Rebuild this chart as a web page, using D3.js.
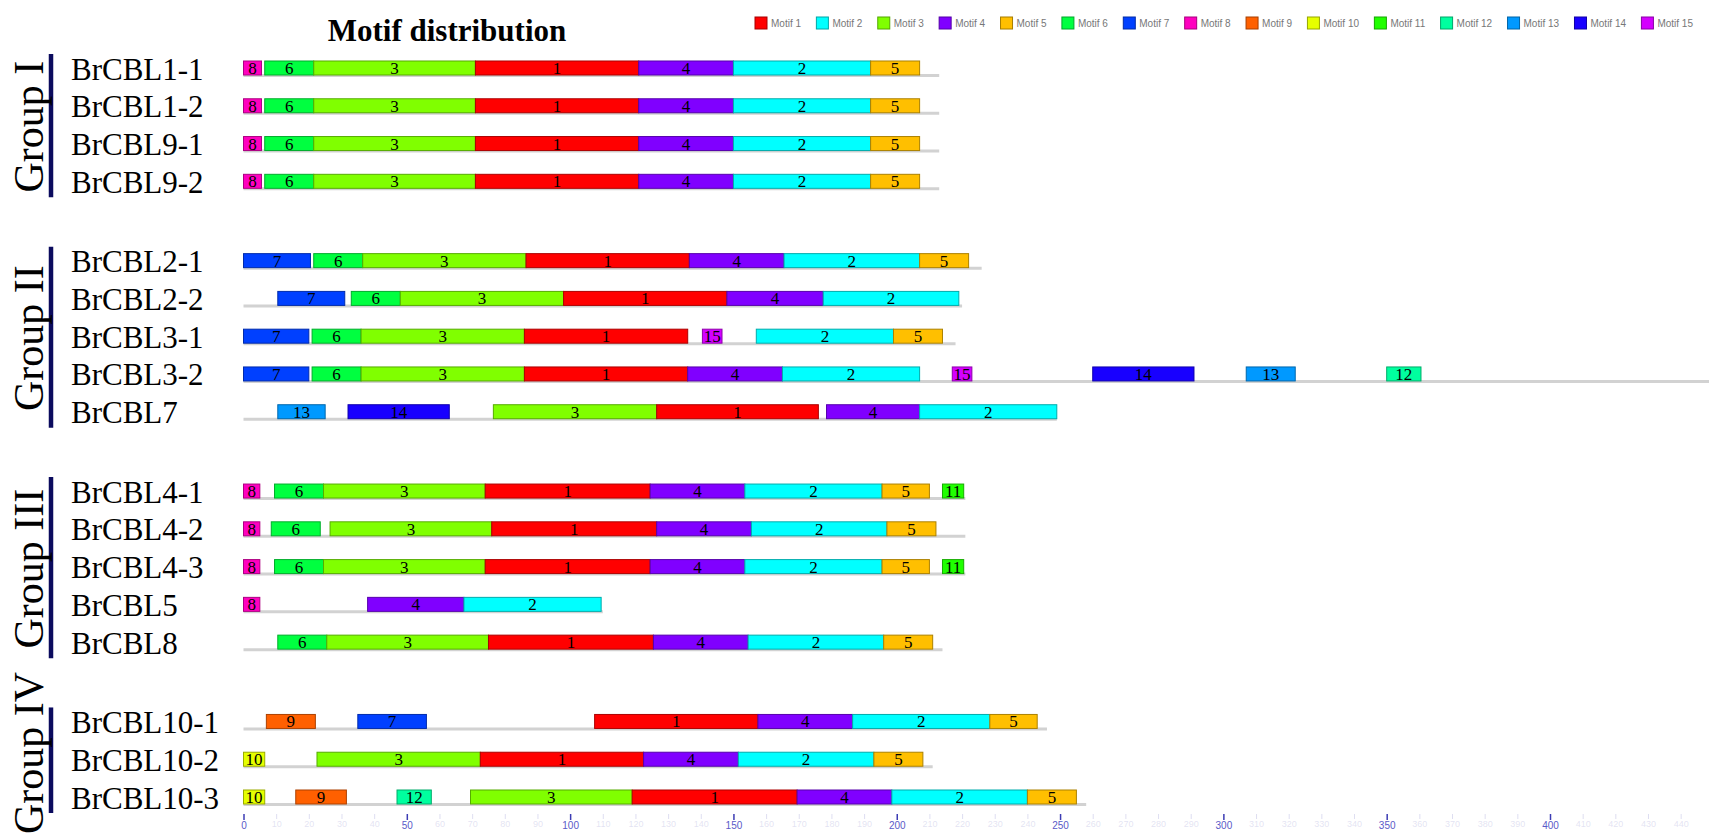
<!DOCTYPE html>
<html>
<head>
<meta charset="utf-8">
<script src="https://cdn.jsdelivr.net/npm/d3@7"></script>
<style>
  body { margin: 0; background: #fff; }
  svg { display: block; }
</style>
</head>
<body>
<svg id="chart" width="1709" height="836"></svg>
<script>
// --- data (positions in amino acids) ---
const groupNames = ["Group I", "Group II", "Group III", "Group IV"];
const groupSizes = [4, 5, 5, 3];

const geneNames = [
  "BrCBL1-1", "BrCBL1-2", "BrCBL9-1", "BrCBL9-2",
  "BrCBL2-1", "BrCBL2-2", "BrCBL3-1", "BrCBL3-2", "BrCBL7",
  "BrCBL4-1", "BrCBL4-2", "BrCBL4-3", "BrCBL5", "BrCBL8",
  "BrCBL10-1", "BrCBL10-2", "BrCBL10-3"
];

const geneLengths = [213, 213, 213, 213, 226, 220, 218, 460, 249, 221, 221, 221, 110, 214, 246, 211, 258];

// [motif, start, end]
const motifSites = [
  [[8, 0, 5.5], [6, 6.5, 21.5], [3, 21.5, 71], [1, 71, 121], [4, 121, 150], [2, 150, 192], [5, 192, 207]],
  [[8, 0, 5.5], [6, 6.5, 21.5], [3, 21.5, 71], [1, 71, 121], [4, 121, 150], [2, 150, 192], [5, 192, 207]],
  [[8, 0, 5.5], [6, 6.5, 21.5], [3, 21.5, 71], [1, 71, 121], [4, 121, 150], [2, 150, 192], [5, 192, 207]],
  [[8, 0, 5.5], [6, 6.5, 21.5], [3, 21.5, 71], [1, 71, 121], [4, 121, 150], [2, 150, 192], [5, 192, 207]],
  [[7, 0, 20.5], [6, 21.5, 36.5], [3, 36.5, 86.5], [1, 86.5, 136.5], [4, 136.5, 165.5], [2, 165.5, 207], [5, 207, 222]],
  [[7, 10.5, 31], [6, 33, 48], [3, 48, 98], [1, 98, 148], [4, 148, 177.5], [2, 177.5, 219]],
  [[7, 0, 20], [6, 21, 36], [3, 36, 86], [1, 86, 136], [15, 140.5, 146.5], [2, 157, 199], [5, 199, 214]],
  [[7, 0, 20], [6, 21, 36], [3, 36, 86], [1, 86, 136], [4, 136, 165], [2, 165, 207], [15, 217, 223],
   [14, 260, 291], [13, 307, 322], [12, 350, 360.5]],
  [[13, 10.5, 25], [14, 32, 63], [3, 76.5, 126.5], [1, 126.5, 176], [4, 178.5, 207], [2, 207, 249]],
  [[8, 0, 5], [6, 9.5, 24.5], [3, 24.5, 74], [1, 74, 124.5], [4, 124.5, 153.5], [2, 153.5, 195.5], [5, 195.5, 210], [11, 214, 220.5]],
  [[8, 0, 5], [6, 8.5, 23.5], [3, 26.5, 76], [1, 76, 126.5], [4, 126.5, 155.5], [2, 155.5, 197], [5, 197, 212]],
  [[8, 0, 5], [6, 9.5, 24.5], [3, 24.5, 74], [1, 74, 124.5], [4, 124.5, 153.5], [2, 153.5, 195.5], [5, 195.5, 210], [11, 214, 220.5]],
  [[8, 0, 5], [4, 38, 67.5], [2, 67.5, 109.5]],
  [[6, 10.5, 25.5], [3, 25.5, 75], [1, 75, 125.5], [4, 125.5, 154.5], [2, 154.5, 196], [5, 196, 211]],
  [[9, 7, 22], [7, 35, 56], [1, 107.5, 157.5], [4, 157.5, 186.5], [2, 186.5, 228.5], [5, 228.5, 243]],
  [[10, 0, 6.5], [3, 22.5, 72.5], [1, 72.5, 122.5], [4, 122.5, 151.5], [2, 151.5, 193], [5, 193, 208]],
  [[10, 0, 6.5], [9, 16, 31.5], [12, 47, 57.5], [3, 69.5, 119], [1, 119, 169.5], [4, 169.5, 198.5], [2, 198.5, 240], [5, 240, 255]]
];

const motifColors = [
  "#ff0000", "#00ffff", "#80ff00", "#8000ff", "#ffbf00",
  "#00ff40", "#0040ff", "#ff00bf", "#ff6000", "#e6ff00",
  "#20ff00", "#00ff9f", "#0099ff", "#1800ff", "#d400ff"
];
const motifLabels = d3.range(1, 16).map((i) => "Motif " + i);

const majorTicks = [0, 50, 100, 150, 200, 250, 300, 350, 400];

// --- layout ---
const svg = d3.select("#chart");
const serif = "'Liberation Serif', 'Times New Roman', serif";
const sans = "'Liberation Sans', Arial, sans-serif";

const x = d3.scaleLinear().domain([0, 400]).range([243.5, 1550]);

const gapSlots = 1.1;
const rows = [];
let idx = 0;
groupSizes.forEach((n, g) => {
  for (let i = 0; i < n; i++) {
    rows.push({ gene: idx, group: g, slot: idx + g * gapSlots });
    idx++;
  }
});
const y = d3.scaleLinear()
  .domain([0, rows[rows.length - 1].slot])
  .range([68, 797]);

// title
svg.append("text")
  .attr("x", 447)
  .attr("y", 41)
  .attr("text-anchor", "middle")
  .attr("font-family", serif)
  .attr("font-weight", "bold")
  .attr("font-size", 31)
  .text("Motif distribution");

// legend: spread items between x0 and x1
const legendX0 = 755, legendX1 = 1693;
const legend = svg.append("g").attr("transform", `translate(${legendX0},23)`);
const items = legend.selectAll("g")
  .data(motifLabels)
  .join("g");
items.append("rect")
  .attr("x", 0).attr("y", -6)
  .attr("width", 12).attr("height", 12)
  .attr("fill", (d, i) => motifColors[i])
  .attr("stroke", (d, i) => d3.color(motifColors[i]).darker(1.2))
  .attr("stroke-width", 1);
items.append("text")
  .attr("x", 16).attr("y", 3.5)
  .attr("font-family", sans)
  .attr("font-size", 10)
  .attr("fill", "#777")
  .text((d) => d);
const widths = [];
items.each(function () {
  widths.push(16 + d3.select(this).select("text").node().getComputedTextLength());
});
const spacing = (legendX1 - legendX0 - d3.sum(widths)) / (widths.length - 1);
let lx = 0;
items.attr("transform", (d, i) => {
  const t = `translate(${lx},0)`;
  lx += widths[i] + spacing;
  return t;
});

// group brackets and labels
let start = 0;
groupSizes.forEach((n, g) => {
  const first = y(rows[start].slot);
  const last = y(rows[start + n - 1].slot);
  svg.append("line")
    .attr("x1", 51).attr("x2", 51)
    .attr("y1", first - 14).attr("y2", last + 16)
    .attr("stroke", "#0b0b5e")
    .attr("stroke-width", 4.5);
  const label = svg.append("text")
    .attr("text-anchor", "middle")
    .attr("font-family", serif)
    .attr("font-size", 42)
    .text(groupNames[g]);
  // keep the label inside the picture
  const half = label.node().getComputedTextLength() / 2;
  const cy = Math.min((first + last) / 2 + 2, 834 - half);
  label.attr("transform", `translate(43,${cy}) rotate(-90)`);
  start += n;
});

// gene rows
const geneRows = svg.selectAll("g.gene")
  .data(rows)
  .join("g")
  .attr("class", "gene")
  .attr("transform", (d) => `translate(0,${y(d.slot)})`);

geneRows.append("text")
  .attr("x", 71)
  .attr("y", 11.5)
  .attr("font-family", serif)
  .attr("font-size", 31)
  .text((d) => geneNames[d.gene]);

geneRows.append("line")
  .attr("x1", x(0))
  .attr("x2", (d) => x(geneLengths[d.gene]))
  .attr("y1", 7.5).attr("y2", 7.5)
  .attr("stroke", "#d2d2d2")
  .attr("stroke-width", 3);

const sites = geneRows.selectAll("g.site")
  .data((d) => motifSites[d.gene])
  .join("g")
  .attr("class", "site");

sites.append("rect")
  .attr("x", (d) => x(d[1]))
  .attr("y", -7)
  .attr("width", (d) => x(d[2]) - x(d[1]))
  .attr("height", 14)
  .attr("fill", (d) => motifColors[d[0] - 1])
  .attr("stroke", (d) => d3.color(motifColors[d[0] - 1]).darker(1.1))
  .attr("stroke-width", 1);

sites.append("text")
  .attr("x", (d) => (x(d[1]) + x(d[2])) / 2)
  .attr("y", 6)
  .attr("text-anchor", "middle")
  .attr("font-family", serif)
  .attr("font-size", 17)
  .attr("fill", "#000")
  .text((d) => d[0])
  .each(function (d) {
    const w = x(d[2]) - x(d[1]);
    if (this.getComputedTextLength() > w - 1) {
      d3.select(this)
        .attr("textLength", w - 1)
        .attr("lengthAdjust", "spacingAndGlyphs");
    }
  });

// axis
const minorTicks = d3.range(10, 450, 10).filter((v) => v % 50 !== 0);

const minorAxis = svg.append("g")
  .attr("transform", "translate(0,814)")
  .call(d3.axisBottom(x).tickValues(minorTicks).tickSize(5).tickPadding(2));
minorAxis.select(".domain").remove();
minorAxis.selectAll("line").attr("stroke", "#c8c8e8").attr("stroke-opacity", 0.6);
minorAxis.selectAll("text")
  .attr("fill", "#c0c0e4")
  .attr("fill-opacity", 0.45)
  .attr("font-family", sans)
  .attr("font-size", 9);

const majorAxis = svg.append("g")
  .attr("transform", "translate(0,814)")
  .call(d3.axisBottom(x).tickValues(majorTicks).tickSize(6).tickPadding(2));
majorAxis.select(".domain").remove();
majorAxis.selectAll("line").attr("stroke", "#3c3cb4").attr("stroke-width", 1.5);
majorAxis.selectAll("text")
  .attr("fill", "#5a5ac8")
  .attr("font-family", sans)
  .attr("font-size", 10);
</script>
</body>
</html>
